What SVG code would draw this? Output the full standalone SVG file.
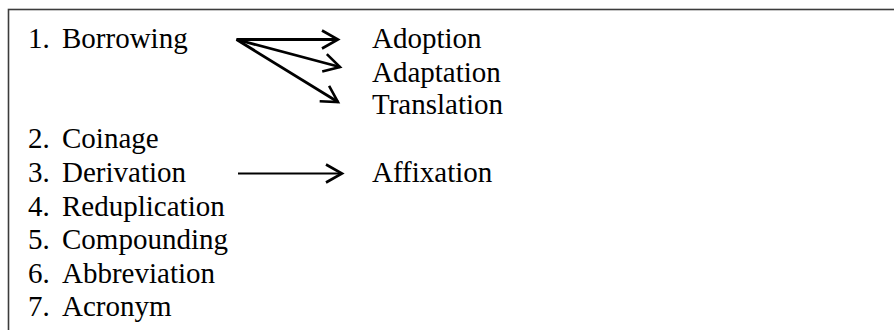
<svg xmlns="http://www.w3.org/2000/svg" width="894" height="330" viewBox="0 0 894 330">
<defs>
  <marker id="head" markerUnits="userSpaceOnUse" viewBox="-20 -12 24 24" refX="0" refY="0" markerWidth="24" markerHeight="24" orient="auto">
    <path d="M -16 -9 L 0 0 L -16 9" fill="none" stroke="#000" stroke-width="2.6" stroke-linejoin="miter"/>
  </marker>
</defs>
<rect width="894" height="330" fill="#fff"/>
<rect x="8.5" y="9.5" width="900" height="340" fill="#fff" stroke="#3c3c3c" stroke-width="1.6"/>

<g id="connectors" stroke="#000" fill="none">
  <line stroke-width="2.8" x1="236.5" y1="39.5" x2="338" y2="39.5" marker-end="url(#head)"/>
  <line stroke-width="2.8" x1="236.5" y1="39.5" x2="340" y2="67" marker-end="url(#head)"/>
  <line stroke-width="2.8" x1="236.5" y1="39.5" x2="338" y2="102" marker-end="url(#head)"/>
  <line stroke-width="2.2" x1="238" y1="173.5" x2="342" y2="173.5" marker-end="url(#head)"/>
</g>

<g id="borrowing"><text x="28" y="48.3" style="font-family:'Liberation Serif',serif;font-size:29px">1.</text><text x="62" y="48.3" style="font-family:'Liberation Serif',serif;font-size:29px">Borrowing</text></g>
<g id="adoption"><text x="372" y="48.3" style="font-family:'Liberation Serif',serif;font-size:29px">Adoption</text></g>
<g id="adaptation"><text x="372" y="81.5" style="font-family:'Liberation Serif',serif;font-size:29px">Adaptation</text></g>
<g id="translation"><text x="372" y="114" style="font-family:'Liberation Serif',serif;font-size:29px">Translation</text></g>
<g id="coinage"><text x="28" y="147.5" style="font-family:'Liberation Serif',serif;font-size:29px">2.</text><text x="62" y="147.5" style="font-family:'Liberation Serif',serif;font-size:29px">Coinage</text></g>
<g id="derivation"><text x="28" y="181.5" style="font-family:'Liberation Serif',serif;font-size:29px">3.</text><text x="62" y="181.5" style="font-family:'Liberation Serif',serif;font-size:29px">Derivation</text></g>
<g id="affixation"><text x="372" y="181.5" style="font-family:'Liberation Serif',serif;font-size:29px">Affixation</text></g>
<g id="reduplication"><text x="28" y="215.5" style="font-family:'Liberation Serif',serif;font-size:29px">4.</text><text x="62" y="215.5" style="font-family:'Liberation Serif',serif;font-size:29px">Reduplication</text></g>
<g id="compounding"><text x="28" y="249" style="font-family:'Liberation Serif',serif;font-size:29px">5.</text><text x="62" y="249" style="font-family:'Liberation Serif',serif;font-size:29px">Compounding</text></g>
<g id="abbreviation"><text x="28" y="282.5" style="font-family:'Liberation Serif',serif;font-size:29px">6.</text><text x="62" y="282.5" style="font-family:'Liberation Serif',serif;font-size:29px">Abbreviation</text></g>
<g id="acronym"><text x="28" y="316" style="font-family:'Liberation Serif',serif;font-size:29px">7.</text><text x="62" y="316" style="font-family:'Liberation Serif',serif;font-size:29px">Acronym</text></g>
</svg>
